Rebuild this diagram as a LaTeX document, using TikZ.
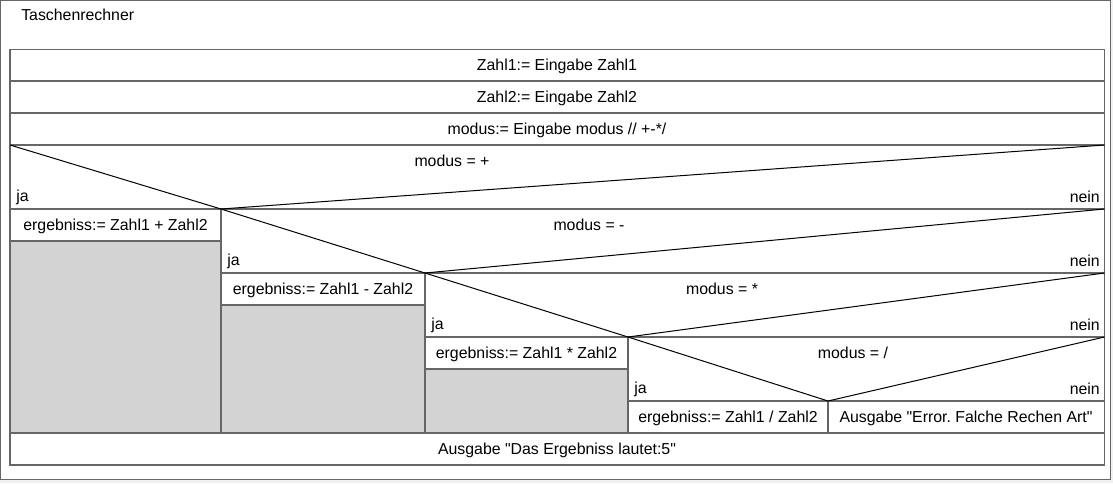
\documentclass[tikz,border=0pt]{standalone}
\usepackage{fontspec}
\setmainfont{Liberation Sans}[Ligatures=TeXOff]
\frenchspacing
\definecolor{bg}{HTML}{F0F0F0}
\definecolor{frame}{HTML}{666666}
\definecolor{greyfill}{HTML}{D3D3D3}
\begin{document}
\begin{tikzpicture}[x=0.75pt,y=-0.75pt,
  txt/.style={inner sep=0pt,font=\fontsize{11.9}{13}\selectfont,anchor=center},
  lft/.style={txt,anchor=west},
  rgt/.style={txt,anchor=east},
  box/.style={draw=frame,line width=1pt},
  diag/.style={draw=black,line width=0.75pt}]
\fill[bg] (0,0) rectangle (1113,483);
\useasboundingbox (0,0) rectangle (1113,483);
\filldraw[fill=white,draw=frame,line width=1.2pt] (0.6,0.6) rectangle (1110.5,479.4);
\node[lft] (title) at (21,15) {Taschenrechner};
% gray areas
\fill[greyfill] (10,241) rectangle (221,433);
\fill[greyfill] (221,305) rectangle (425,433);
\fill[greyfill] (425,369) rectangle (628,433);
% outer inner box
\draw[box] (10,49.5) rectangle (1104.5,465);
% horizontal rows
\draw[box] (10,81) -- (1104.5,81);
\draw[box] (10,113) -- (1104.5,113);
\draw[box] (10,145) -- (1104.5,145);
\draw[box] (10,209) -- (1104.5,209);
\draw[box] (221,273) -- (1104.5,273);
\draw[box] (425,337) -- (1104.5,337);
\draw[box] (628,401) -- (1104.5,401);
\draw[box,line width=1.6pt] (10,433) -- (1104.5,433);
\draw[box] (10,241) -- (221,241);
\draw[box] (221,305) -- (425,305);
\draw[box] (425,369) -- (628,369);
% vertical separators
\draw[box,line width=1.5pt] (221,209) -- (221,433);
\draw[box,line width=1.5pt] (425,273) -- (425,433);
\draw[box,line width=1.5pt] (628,337) -- (628,433);
\draw[box,line width=1.5pt] (828,401) -- (828,433);
% diagonal coordinates
\coordinate (a0) at (10,145);
\coordinate (a1) at (221,209);
\coordinate (a2) at (425,273);
\coordinate (a3) at (628,337);
\coordinate (a4) at (828,401);
\coordinate (r1) at (1104.5,145);
\coordinate (r2) at (1104.5,209);
\coordinate (r3) at (1104.5,273);
\coordinate (r4) at (1104.5,337);
\draw[diag] (a0) -- (a1) -- (r1);
\draw[diag] (a1) -- (a2) -- (r2);
\draw[diag] (a2) -- (a3) -- (r3);
\draw[diag] (a3) -- (a4) -- (r4);
% texts
\node[txt] (z1) at (557,66) {Zahl1:= Eingabe Zahl1};
\node[txt] (z2) at (557,98) {Zahl2:= Eingabe Zahl2};
\node[txt] (mo) at (557,130) {modus:= Eingabe modus // +-*/};
\node[txt] (q1) at (452,161) {modus = +};
\node[lft] (ja1) at (16,197) {ja};
\node[rgt] (ne1) at (1100,197) {nein};
\node[txt] (q2) at (589,225) {modus = -};
\node[lft] (ja2) at (227,261) {ja};
\node[rgt] (ne2) at (1100,261) {nein};
\node[txt] (q3) at (722,289) {modus = *};
\node[lft] (ja3) at (431,325) {ja};
\node[rgt] (ne3) at (1100,325) {nein};
\node[txt] (q4) at (853,353) {modus = /};
\node[lft] (ja4) at (634,389) {ja};
\node[rgt] (ne4) at (1100,389) {nein};
\node[txt] (e1) at (115.5,226) {ergebniss:= Zahl1 + Zahl2};
\node[txt] (e2) at (323,290) {ergebniss:= Zahl1 - Zahl2};
\node[txt] (e3) at (526.5,354) {ergebniss:= Zahl1 * Zahl2};
\node[txt] (e4) at (728,418) {ergebniss:= Zahl1 / Zahl2};
\node[txt] (err) at (966,418) {Ausgabe "Error. Falche Rechen Art"};
\node[txt] (out) at (557,450) {Ausgabe "Das Ergebniss lautet:5"};
\end{tikzpicture}
\end{document}
